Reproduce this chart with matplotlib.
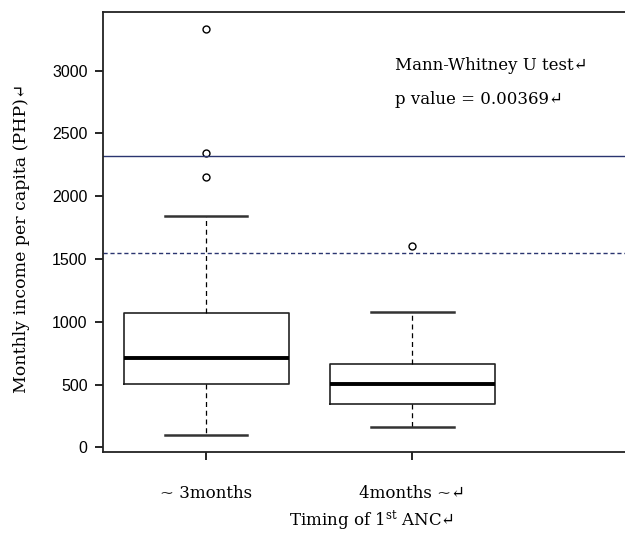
import numpy as np
import matplotlib.pyplot as plt

groups = ["~ 3months", "4months ~\u21b5"]
whislo = [100, 165]
q1 = [505, 350]
med = [715, 505]
q3 = [1070, 665]
whishi = [1840, 1078]
fliers = [[2155, 2340, 3330], [1605]]
ref_solid = 2320
ref_dashed = 1550
test_lines = ["Mann-Whitney U test\u21b5", "p value = 0.00369\u21b5"]

serif = ['DejaVu Serif', 'DejaVu Sans']
plt.rcParams['mathtext.fontset'] = 'dejavuserif'

fig = plt.figure(figsize=(6.25, 5.33), dpi=100)
ax = fig.add_axes([103 / 625, 81 / 533, 1 - 103 / 625, (452 - 12) / 533])

stats = []
for i in range(len(groups)):
    stats.append(dict(whislo=whislo[i], q1=q1[i], med=med[i], q3=q3[i],
                      whishi=whishi[i], fliers=fliers[i]))

ax.bxp(stats, positions=[1, 2], widths=0.8, showfliers=True,
       boxprops=dict(color='#222222', linewidth=1.2),
       medianprops=dict(color='black', linewidth=2.8),
       whiskerprops=dict(color='black', linewidth=0.9, linestyle=(0, (4, 3))),
       capprops=dict(color='#333333', linewidth=1.8),
       flierprops=dict(marker='o', markersize=5, markerfacecolor='white',
                       markeredgecolor='black', markeredgewidth=1.0),
       capwidths=0.4)

ax.axhline(ref_solid, color='#2a3570', linewidth=1.0)
ax.axhline(ref_dashed, color='#2a3570', linewidth=1.0, linestyle=(0, (3, 2)))

ax.set_xlim(0.5, 3.03)
ax.set_ylim(-36, 3466)
ax.set_yticks(np.arange(0, 3001, 500))
ax.set_yticklabels([str(v) for v in range(0, 3001, 500)],
                   family='Liberation Sans', fontsize=11.5)
ax.set_xticks([1, 2])
ax.set_xticklabels(groups, family=serif, fontsize=12)
ax.tick_params(axis='y', direction='out', length=6, width=1.2, pad=5)
ax.tick_params(axis='x', direction='out', length=6, width=1.2, pad=18)

for s in ['left', 'top', 'bottom']:
    ax.spines[s].set_linewidth(1.3)
    ax.spines[s].set_color('#222222')
ax.spines['right'].set_visible(False)

fig.text(395 / 625, 1 - 66 / 533, test_lines[0], family=serif, fontsize=12,
         va='center', ha='left')
fig.text(395 / 625, 1 - 100 / 533, test_lines[1], family=serif, fontsize=12,
         va='center', ha='left')

fig.text(22 / 625, 1 - 238 / 533, "Monthly income per capita (PHP)\u21b5",
         family=serif, fontsize=12.5, rotation=90, va='center', ha='center')
fig.text(372 / 625, 1 - 520 / 533, "Timing of 1$^{\\mathrm{st}}$ ANC\u21b5",
         family=serif, fontsize=12, va='center', ha='center')

fig.savefig("out.png", dpi=100)
